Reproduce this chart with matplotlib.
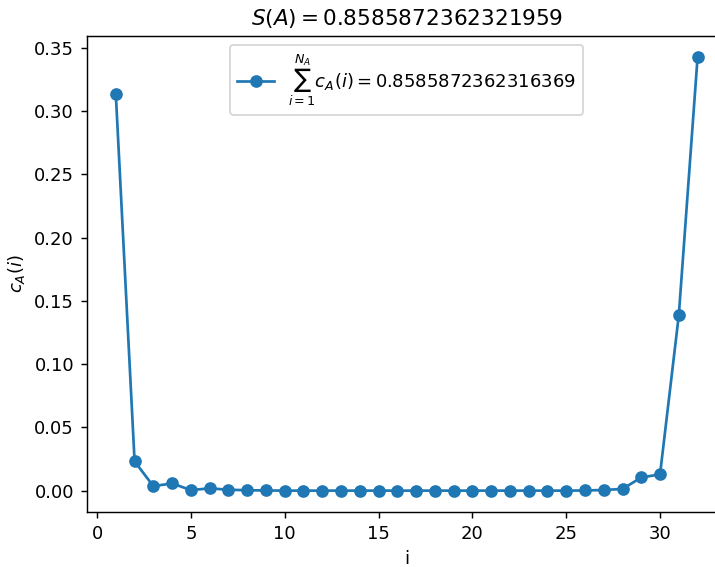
import numpy as np
import matplotlib
matplotlib.use("Agg")
import matplotlib.pyplot as plt

# site index and contribution c_A(i)
sites = np.arange(1, 33)
c_A = [0.3132, 0.0232, 0.0036, 0.0058, 0.0005, 0.0019, 0.0008, 0.0004,
       0.0002, 0.0001, 0.0001, 0.0001, 0.0001, 0.0001, 0.0001, 0.0001,
       0.0001, 0.0001, 0.0001, 0.0001, 0.0001, 0.0001, 0.0001, 0.0001,
       0.0001, 0.0002, 0.0006, 0.0014, 0.0105, 0.0129, 0.1386, 0.3423]

entropy_str = "0.8585872362321959"
sum_str = "0.8585872362316369"

dpi = 130
fig = plt.figure(figsize=(715 / dpi, 567 / dpi), dpi=dpi)
ax = fig.add_axes([0.1213, 0.0965, 0.895, 0.8406])

ax.plot(sites, c_A, "o-", label=r"$\sum_{i=1}^{N_A} c_A(i) = %s$" % sum_str)
ax.set_xlabel("i")
ax.set_ylabel(r"$c_A(i)$")
ax.set_title(r"$S(A) = %s$" % entropy_str)
ax.legend(loc="upper center")

fig.savefig("out.png", dpi=dpi)
